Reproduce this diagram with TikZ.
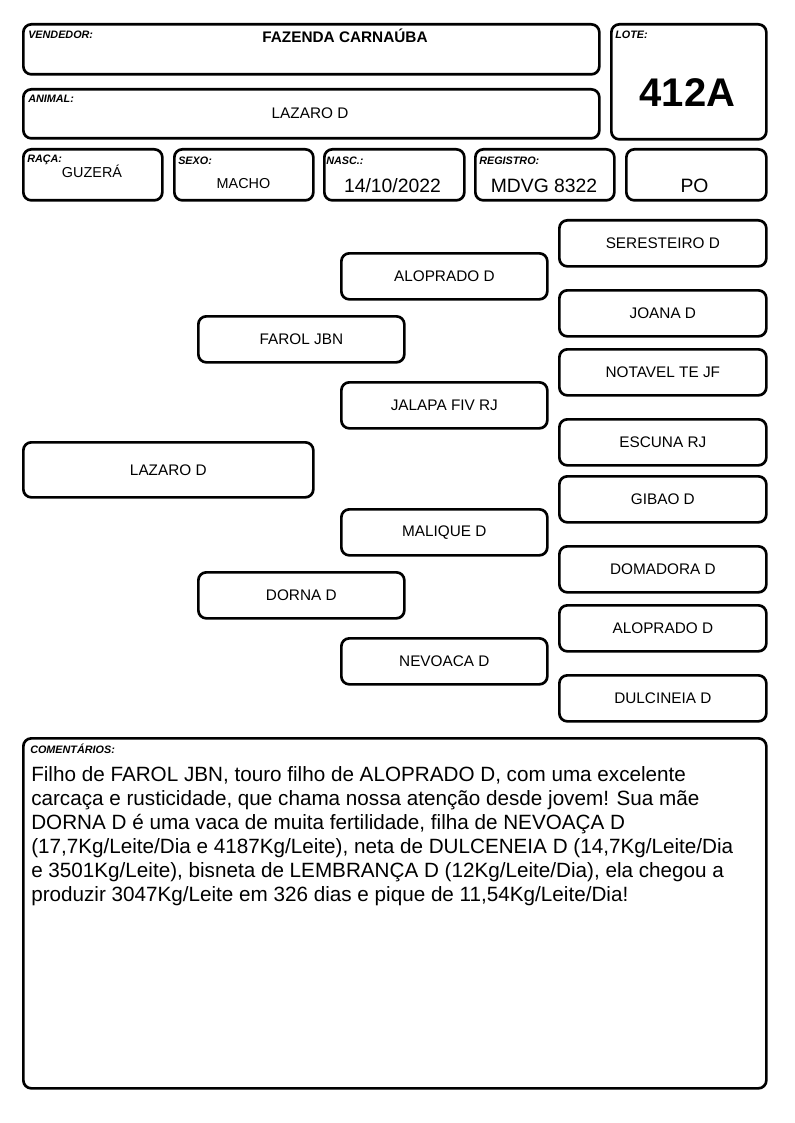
\documentclass[tikz,border=0pt]{standalone}
\usepackage{fontspec}
\setmainfont{Liberation Sans}
\newcommand*\px{0.75pt}
\tikzset{cell/.style 2 args={
    draw,
    line width=2pt,
    rectangle,
    rounded corners=6pt,
    fill=white,
    anchor=north west,
    inner sep=0pt,
    minimum width=#1*\px,
    minimum height=#2*\px,
    align=center,
    font=\fontsize{11.5}{14}\selectfont
}}
\tikzset{tag/.style={
    anchor=base west,
    inner sep=0pt,
    font=\fontsize{8.1}{9}\selectfont\bfseries\itshape
}}
\tikzset{value/.style={
    anchor=base,
    inner sep=0pt,
    font=\fontsize{11.5}{14}\selectfont
}}

\begin{document}
\begin{tikzpicture}[x=\px,y=-\px]
    \useasboundingbox (0,0) rectangle (794,1123);

    % First the header boxes.
    \node[cell={576}{50}] (vendedor) at (22,23) {};
    \node[cell={155}{115}] (lote) at (610,23) {};
    \node[cell={576}{49}] (animal) at (22,88) {};
    \node[cell={139}{51}] (raca) at (22,148) {};
    \node[cell={139}{51}] (sexo) at (173,148) {};
    \node[cell={140}{51}] (nasc) at (323,148) {};
    \node[cell={139}{51}] (registro) at (474,148) {};
    \node[cell={140}{51}] (po) at (625,148) {};

    % Their small labels.
    \node[tag] (tvendedor) at (28,39) {VENDEDOR:};
    \node[tag] (tlote) at (615,39) {LOTE:};
    \node[tag] (tanimal) at (28,103) {ANIMAL:};
    \node[tag] (traca) at (27,163) {RAÇA:};
    \node[tag] (tsexo) at (178,165) {SEXO:};
    \node[tag] (tnasc) at (326,165) {NASC.:};
    \node[tag] (tregistro) at (479,165) {REGISTRO:};

    % And the values.
    \node[value,font=\fontsize{11.5}{14}\selectfont\bfseries] (vvendedor) at (345,43) {FAZENDA CARNAÚBA};
    \node[value,font=\fontsize{30}{36}\selectfont\bfseries] (vlote) at (687.5,106.5) {412A};
    \node[value] (vanimal) at (310,119) {LAZARO D};
    \node[value,font=\fontsize{10.8}{13}\selectfont] (vraca) at (92,178) {GUZERÁ};
    \node[value,font=\fontsize{10.8}{13}\selectfont] (vsexo) at (243.5,189) {MACHO};
    \node[value,font=\fontsize{14.5}{17}\selectfont] (vnasc) at (392.5,193) {14/10/2022};
    \node[value,font=\fontsize{14.5}{17}\selectfont] (vregistro) at (544,193) {MDVG 8322};
    \node[value,font=\fontsize{14.5}{17}\selectfont] (vpo) at (694.5,192.5) {PO};

    % The pedigree, from the animal to the great-grandparents.
    \node[cell={290}{55}] (self) at (22,441) {LAZARO D};
    \node[cell={206}{46}] (pai) at (197,315) {FAROL JBN};
    \node[cell={206}{46}] (mae) at (197,571) {DORNA D};
    \node[cell={206}{46}] (avo1) at (340,252) {ALOPRADO D};
    \node[cell={206}{46}] (avo2) at (340,381) {JALAPA FIV RJ};
    \node[cell={206}{46}] (avo3) at (340,508) {MALIQUE D};
    \node[cell={206}{46}] (avo4) at (340,637) {NEVOACA D};
    \foreach \n/\y/\nome in {1/219/SERESTEIRO D,2/289/JOANA D,3/348/NOTAVEL TE JF,4/418/ESCUNA RJ,
        5/475/GIBAO D,6/545/DOMADORA D,7/604/ALOPRADO D,8/674/DULCINEIA D}
        \node[cell={207}{46}] (bis\n) at (558,\y) {\nome};

    % Comments.
    \node[cell={743}{350}] (comentarios) at (22,737) {};
    \node[tag] (tcomentarios) at (30,753) {COMENTÁRIOS:};
    \node[anchor=north west,inner sep=0pt,align=left,font=\fontsize{15.5}{18}\selectfont] (texto) at (31,766)
        {Filho de FAROL JBN, touro filho de ALOPRADO D, com uma excelente\\
         carcaça e rusticidade, que chama nossa atenção desde jovem! Sua mãe\\
         DORNA D é uma vaca de muita fertilidade, filha de NEVOAÇA D\\
         (17,7Kg/Leite/Dia e 4187Kg/Leite), neta de DULCENEIA D (14,7Kg/Leite/Dia\\
         e 3501Kg/Leite), bisneta de LEMBRANÇA D (12Kg/Leite/Dia), ela chegou a\\
         produzir 3047Kg/Leite em 326 dias e pique de 11,54Kg/Leite/Dia!};

\end{tikzpicture}
\end{document}
